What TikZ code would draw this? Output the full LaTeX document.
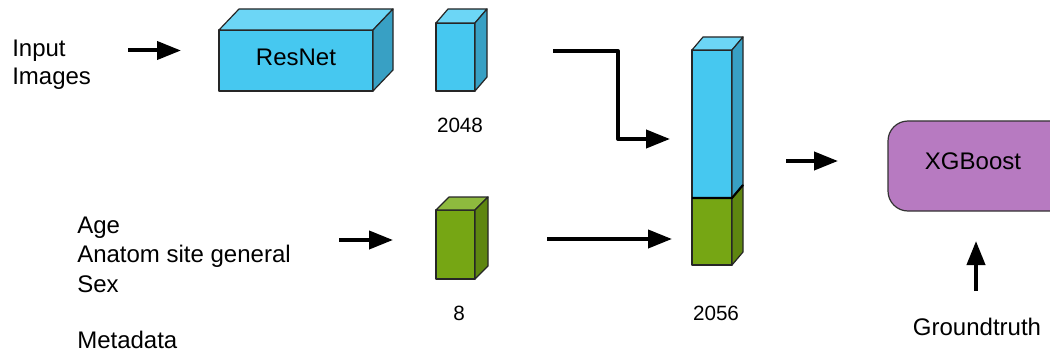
\documentclass[tikz,border=0pt]{standalone}
\usepackage{fontspec}
\setmainfont{Liberation Sans}
\usetikzlibrary{arrows.meta}

\definecolor{bluefront}{RGB}{70,200,240}
\definecolor{bluetop}{RGB}{108,214,246}
\definecolor{blueside}{RGB}{56,160,196}
\definecolor{greenfront}{RGB}{118,166,20}
\definecolor{greentop}{RGB}{142,186,62}
\definecolor{greenside}{RGB}{94,134,16}
\definecolor{xgbfill}{RGB}{183,122,193}

% cuboid: front face (x1,y1)-(x2,y2), depth (dx,dy), colours front/top/side
\newcommand{\cuboidbox}[9]{%
  \filldraw[boxline,fill=#7] (#1,#2) rectangle (#3,#4);
  \filldraw[boxline,fill=#8] (#1,#2) -- ++(#5,-#6) -- (#3+#5,#2-#6) -- (#3,#2) -- cycle;
  \filldraw[boxline,fill=#9] (#3,#2) -- ++(#5,-#6) -- (#3+#5,#4-#6) -- (#3,#4) -- cycle;
}

\begin{document}
\begin{tikzpicture}[x=0.75pt,y=-0.75pt,
  boxline/.style={draw=black!85,line width=0.9pt,line join=round},
  flow/.style={line width=3pt,-{Triangle[length=18pt,width=13.5pt]},line join=round},
  label/.style={font=\fontsize{18pt}{22pt}\selectfont,inner sep=0pt},
  numlabel/.style={font=\fontsize{15.5pt}{19pt}\selectfont,inner sep=0pt},
  xgbbox/.style={draw=black!80,line width=0.9pt,fill=xgbfill,rounded corners=15pt}]
\useasboundingbox (0,0) rectangle (1050,353);
\clip (0,0) rectangle (1050,353);

% input labels
\node[label,anchor=base west] (inp1) at (12,56.7) {Input};
\node[label,anchor=base west] (inp2) at (12,85) {Images};
\node[label,anchor=base west] (meta1) at (77,233) {Age};
\node[label,anchor=base west] (meta2) at (77,262.5) {Anatom site general};
\node[label,anchor=base west] (meta3) at (77,292) {Sex};
\node[label,anchor=base west] (meta4) at (77,348) {Metadata};

% ResNet block
\cuboidbox{219}{30}{373}{91}{20}{21}{bluefront}{bluetop}{blueside}
\node[label] (resnet) at (296,57) {ResNet};

% image feature vector
\cuboidbox{436}{23}{475}{91}{12}{14}{bluefront}{bluetop}{blueside}
\node[numlabel] (n2048) at (460,125) {2048};

% metadata feature vector
\cuboidbox{436}{210}{475}{279}{13}{13}{greenfront}{greentop}{greenside}
\node[numlabel] (n8) at (459,313) {8};

% concatenated vector
\filldraw[boxline,fill=bluefront] (692,50) rectangle (732,198);
\filldraw[boxline,fill=greenfront] (692,198) rectangle (732,265);
\filldraw[boxline,fill=bluetop] (692,50) -- (703,37) -- (743,37) -- (732,50) -- cycle;
\filldraw[boxline,fill=blueside] (732,50) -- (743,37) -- (743,185) -- (732,198) -- cycle;
\filldraw[boxline,fill=greenside] (732,198) -- (743,185) -- (743,252) -- (732,265) -- cycle;
\draw[line width=1.6pt] (692,198) -- (732,198) -- (743,185);
\node[numlabel] (n2056) at (716,313) {2056};

% classifier
\draw[xgbbox] (888,121) rectangle (1070,211);
\node[label] (xgb) at (973,161) {XGBoost};
\node[label] (gt) at (977,327) {Groundtruth};

% connectors
\coordinate (a1s) at (128,50.5);  \coordinate (a1e) at (181,50.5);
\coordinate (a2s) at (339,240);   \coordinate (a2e) at (393,240);
\coordinate (a3s) at (553,51);    \coordinate (a3c) at (618,51);
\coordinate (a3d) at (618,139);   \coordinate (a3e) at (670,139);
\coordinate (a4s) at (547,239);   \coordinate (a4e) at (672,239);
\coordinate (a5s) at (786,161);   \coordinate (a5e) at (838,161);
\coordinate (a6s) at (976,291);   \coordinate (a6e) at (976,241);

\draw[flow] (a1s) -- (a1e);
\draw[flow] (a2s) -- (a2e);
\draw[flow] (a3s) -- (a3c) -- (a3d) -- (a3e);
\draw[flow] (a4s) -- (a4e);
\draw[flow] (a5s) -- (a5e);
\draw[flow] (a6s) -- (a6e);
\end{tikzpicture}
\end{document}
